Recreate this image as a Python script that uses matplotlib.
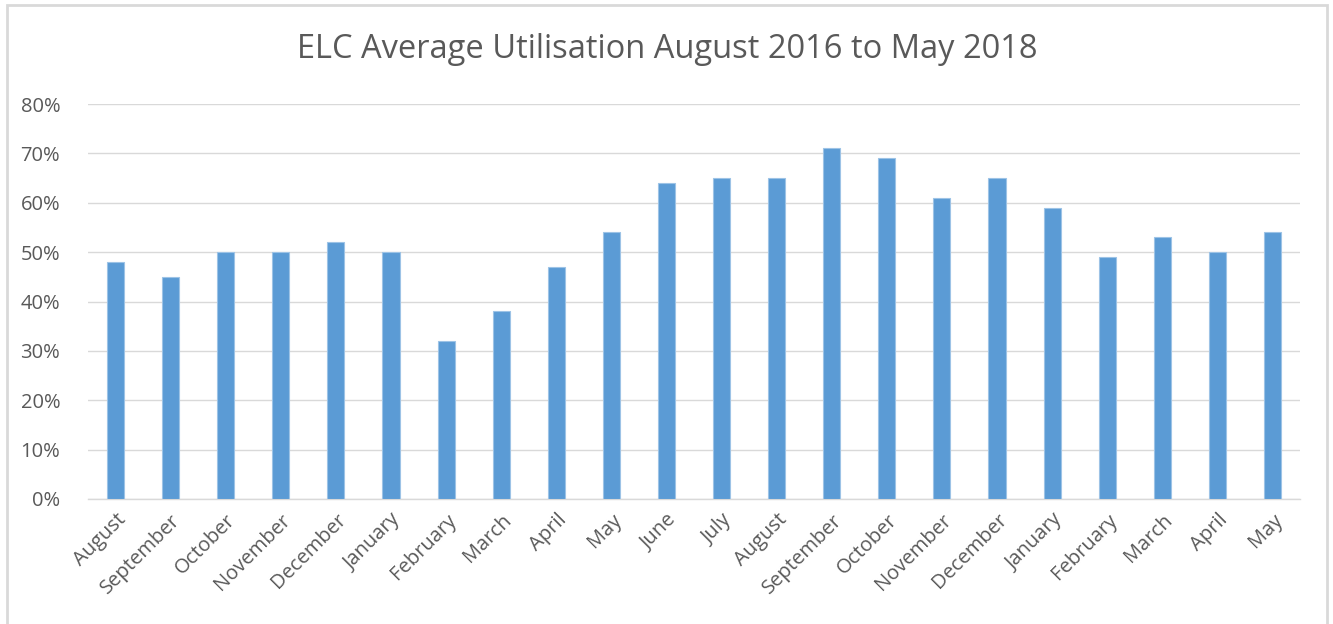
import matplotlib
matplotlib.use("Agg")
import matplotlib.pyplot as plt
from matplotlib.patches import Rectangle
from matplotlib.ticker import PercentFormatter

months = ["August", "September", "October", "November", "December", "January",
          "February", "March", "April", "May", "June", "July", "August",
          "September", "October", "November", "December", "January",
          "February", "March", "April", "May"]
utilisation = [48, 45, 50, 50, 52, 50, 32, 38, 47, 54, 64, 65, 65, 71, 69,
               61, 65, 59, 49, 53, 50, 54]
title = "ELC Average Utilisation August 2016 to May 2018"

plt.rcParams['font.family'] = ['Open Sans', 'DejaVu Sans']
txt = '#595959'

W, H = 1333, 624
fig = plt.figure(figsize=(W / 100, H / 100), dpi=100)
ax = fig.add_axes([88 / W, 1 - 499 / H, (1300 - 88) / W, (499 - 104) / H])

# outer chart frame
fig.patches.append(Rectangle((7 / W, -0.05), (1327 - 7) / W, 1.05 - 5 / H,
                             transform=fig.transFigure, fill=False,
                             edgecolor='#D9D9D9', linewidth=2, zorder=0))

x = list(range(len(months)))
ax.bar(x, utilisation, width=0.31, color='#5B9BD5', edgecolor='#9DC3E6',
       linewidth=0.8, zorder=3)

ax.set_xlim(-0.5, len(months) - 0.5)
ax.set_ylim(0, 80)
ax.set_yticks(range(0, 81, 10))
ax.yaxis.set_major_formatter(PercentFormatter(decimals=0))
ax.grid(axis='y', color='#D9D9D9', linewidth=1, zorder=0)
for s in ['top', 'right', 'left']:
    ax.spines[s].set_visible(False)
ax.spines['bottom'].set_color('#D9D9D9')
ax.spines['bottom'].set_linewidth(1)

ax.set_xticks(x)
ax.set_xticklabels(months, rotation=45, ha='right', rotation_mode='anchor',
                   fontsize=14.5, color=txt)
ax.tick_params(axis='x', length=0, pad=8)
ax.tick_params(axis='y', length=0, pad=20, labelsize=14.5, labelcolor=txt)

fig.text(667 / W, 1 - 50 / H, title, ha='center', va='center',
         fontsize=23.5, color=txt)

fig.savefig('out.png', dpi=100)
